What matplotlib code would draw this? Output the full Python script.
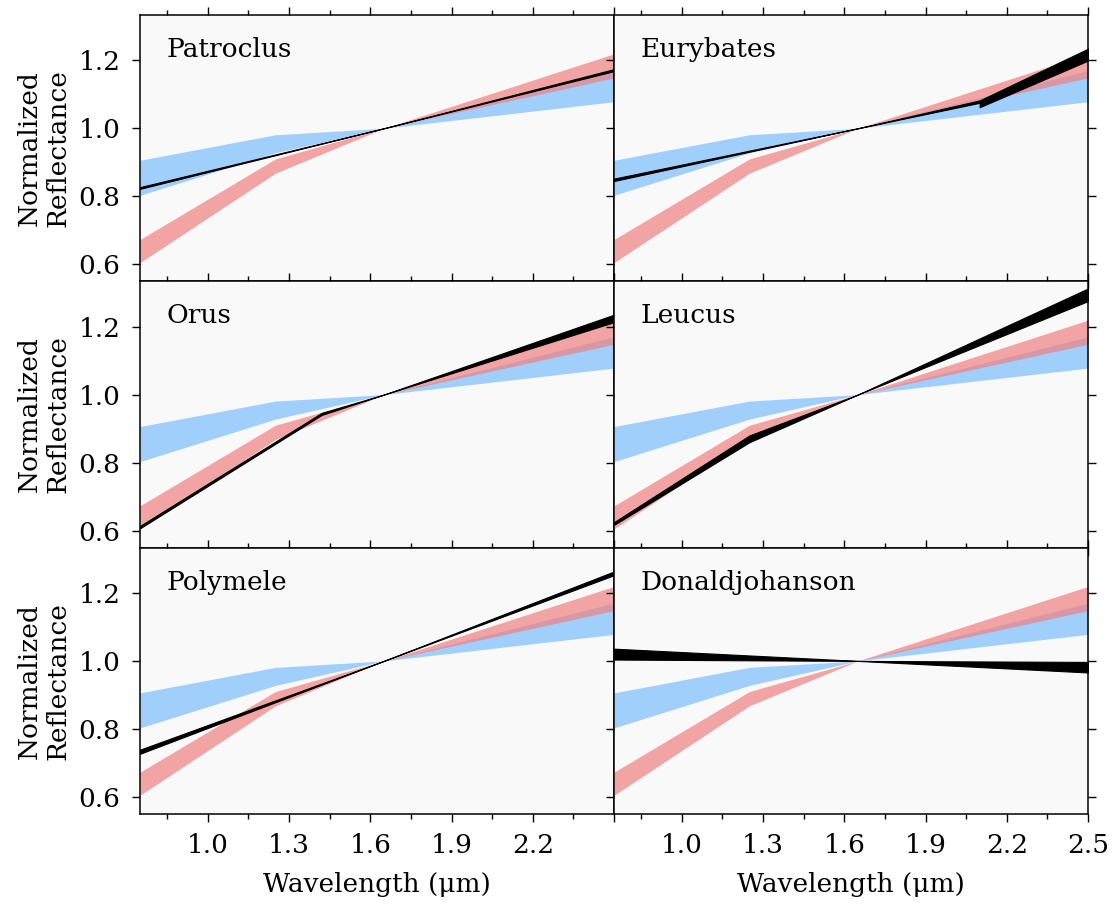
import numpy as np
import matplotlib
matplotlib.use('Agg')
import matplotlib.pyplot as plt

plt.rcParams['font.family'] = 'DejaVu Serif'
plt.rcParams['font.size'] = 19

# reference bands (red and blue groups), normalized at 1.65 um
band_wl = [0.75, 1.25, 1.65, 2.5]
red_lo = [0.605, 0.868, 1.0, 1.148]
red_hi = [0.673, 0.910, 1.0, 1.219]
blue_lo = [0.803, 0.928, 1.0, 1.078]
blue_hi = [0.906, 0.981, 1.0, 1.170]

# individual objects
patroclus_wl = [0.75, 1.65, 2.5]
patroclus_lo = [0.822, 1.0, 1.168]
patroclus_hi = [0.827, 1.0, 1.174]

eurybates_wl = [0.75, 1.65, 2.1, 2.1, 2.5]
eurybates_lo = [0.845, 1.0, 1.075, 1.062, 1.199]
eurybates_hi = [0.852, 1.0, 1.082, 1.082, 1.234]

orus_wl = [0.75, 1.42, 1.65, 2.5]
orus_lo = [0.607, 0.940, 1.0, 1.213]
orus_hi = [0.614, 0.946, 1.0, 1.235]

leucus_wl = [0.75, 1.25, 1.65, 2.5]
leucus_lo = [0.617, 0.860, 1.0, 1.275]
leucus_hi = [0.625, 0.880, 1.0, 1.312]

polymele_wl = [0.75, 1.65, 2.5]
polymele_lo = [0.727, 1.0, 1.252]
polymele_hi = [0.739, 1.0, 1.263]

donald_wl = [0.75, 1.65, 2.5]
donald_lo = [1.004, 1.0, 0.966]
donald_hi = [1.036, 1.0, 0.997]

names = ['Patroclus', 'Eurybates', 'Orus', 'Leucus', 'Polymele', 'Donaldjohanson']
objects = [
    (patroclus_wl, patroclus_lo, patroclus_hi),
    (eurybates_wl, eurybates_lo, eurybates_hi),
    (orus_wl, orus_lo, orus_hi),
    (leucus_wl, leucus_lo, leucus_hi),
    (polymele_wl, polymele_lo, polymele_hi),
    (donald_wl, donald_lo, donald_hi),
]

xticks = [1.0, 1.3, 1.6, 1.9, 2.2, 2.5]
xminor = [0.85, 1.15, 1.45, 1.75, 2.05, 2.35]
yticks = [0.6, 0.8, 1.0, 1.2]

fig, axes = plt.subplots(3, 2, figsize=(11.15, 9.05), dpi=100)
fig.subplots_adjust(left=0.1256, right=0.9758, top=0.9834, bottom=0.1006,
                    wspace=0, hspace=0)

for i, ax in enumerate(axes.flat):
    row, col = divmod(i, 2)
    ax.set_facecolor('#f9f9f9')
    ax.fill_between(band_wl, blue_lo, blue_hi, color='dodgerblue', alpha=0.4, lw=0)
    ax.fill_between(band_wl, red_lo, red_hi, color='lightcoral', alpha=0.7, lw=0)
    wl, lo, hi = objects[i]
    ax.fill_between(wl, lo, hi, facecolor='k', edgecolor='k', lw=0.8)
    ax.text(0.055, 0.87, names[i], transform=ax.transAxes, va='center', ha='left')

    ax.set_xlim(0.75, 2.5)
    ax.set_ylim(0.55, 1.333)
    ax.set_xticks(xticks)
    ax.set_xticks(xminor, minor=True)
    ax.set_yticks(yticks)
    ax.tick_params(which='both', direction='out', top=True, right=True, width=1)
    ax.tick_params(which='major', length=6, pad=8)
    ax.tick_params(which='minor', length=3.5)
    for s in ax.spines.values():
        s.set_linewidth(1.1)

    if col == 0:
        ax.set_ylabel('Normalized\nReflectance', labelpad=6)
    else:
        ax.set_yticklabels([])
    if row == 2:
        ax.set_xlabel('Wavelength (μm)', labelpad=10)
        if col == 0:
            ax.set_xticklabels(['1.0', '1.3', '1.6', '1.9', '2.2', ''])
    else:
        ax.set_xticklabels([])

fig.savefig('out.png', dpi=100)
